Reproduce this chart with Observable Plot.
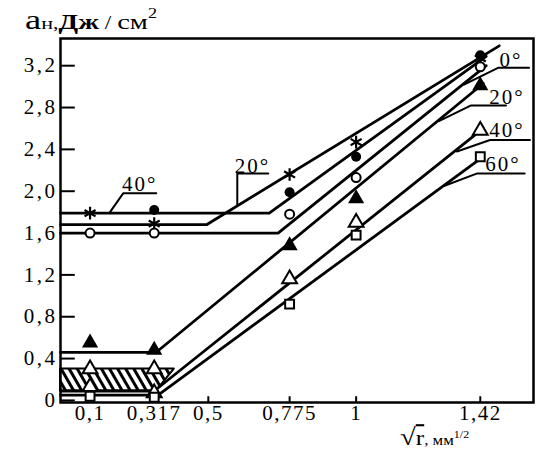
<!DOCTYPE html>
<html><head><meta charset="utf-8">
<script src="https://cdn.jsdelivr.net/npm/d3@7"></script>
<script src="https://cdn.jsdelivr.net/npm/@observablehq/plot@0.6"></script>
<style>
body{margin:0;background:#fff}
svg g[aria-label="x-axis tick label"] text{letter-spacing:1.5px}
svg g[aria-label="y-axis tick label"] text{letter-spacing:2.5px}
svg g[aria-label="text"] text{letter-spacing:2px}
</style>
</head><body><div id="chart"></div>
<script>
// tick values and labels
const xTicks = [0.1, 0.317, 0.5, 0.775, 1, 1.42];
const xTickLabels = ["0,1", "0,317", "0,5", "0,775", "1", "1,42"];
const xTickMarks = [0.5, 0.775, 1, 1.42];
const yTicks = [0, 0.4, 0.8, 1.2, 1.6, 2.0, 2.4, 2.8, 3.2];
const yTickLabels = ["0", "0,4", "0,8", "1,2", "1,6", "2,0", "2,4", "2,8", "3,2"];

// measured points by marker type [sqrt(r), a_n]
const ptsAsterisk = [[0.1, 1.79], [0.317, 1.69], [0.775, 2.16], [1.0, 2.47], [1.42, 3.27]];
const ptsFilledCircle = [[0.317, 1.82], [0.775, 1.99], [1.0, 2.33], [1.42, 3.30]];
const ptsOpenCircle = [[0.1, 1.6], [0.317, 1.6], [0.775, 1.78], [1.0, 2.13], [1.42, 3.19]];
const ptsFilledTriangle = [[0.1, 0.55], [0.317, 0.48], [0.775, 1.48], [1.0, 1.93], [1.42, 3.01]];
const ptsOpenTriangle = [[0.1, 0.30], [0.317, 0.30], [0.1, 0.13], [0.317, 0.07], [0.775, 1.16], [1.0, 1.70], [1.42, 2.58]];
const ptsSquare = [[0.1, 0.04], [0.317, 0.03], [0.775, 0.92], [1.0, 1.58], [1.42, 2.33]];

// fitted lines (plateau + linear rise)
const lineAsterisk = [[0, 1.68], [0.494, 1.68], [1.484, 3.39]];
const lineFilledCircle = [[0, 1.79], [0.706, 1.79], [1.44, 3.29]];
const lineOpenCircle = [[0, 1.6], [0.736, 1.6], [1.44, 3.2]];
const lineFilledTriangle = [[0, 0.46], [0.324, 0.46], [1.43, 3.03]];
const lineOpenTriangle = [[0, 0.09], [0.317, 0.09], [1.43, 2.6]];
const lineSquare = [[0, 0.05], [0.33, 0.05], [1.43, 2.33]];

// hatched scatter band
const bandX = [0, 0.325, 0.385];
const bandLow = [0.09, 0.09, 0.3];
const bandHigh = [0.3, 0.3, 0.3];

// curve labels (angle) and their leaders
const curveLabels = ["40°", "20°", "0°", "20°", "40°", "60°"];
const curveLabelX = [0.268, 0.649, 1.524, 1.51, 1.51, 1.497];
const curveLabelY = [2.07, 2.24, 3.25, 2.90, 2.58, 2.26];
const leaders = [
  [[0.324, 1.98], [0.212, 1.98], [0.165, 1.79]],
  [[0.703, 2.17], [0.598, 2.17], [0.598, 1.87]],
  [[1.585, 3.18], [1.48, 3.18], [1.365, 3.02]],
  [[1.507, 2.82], [1.389, 2.82], [1.28, 2.67]],
  [[1.588, 2.49], [1.453, 2.49], [1.341, 2.38]],
  [[1.57, 2.17], [1.41, 2.17], [1.297, 2.05]]
];

const band = bandX.map((x, i) => ({x, y1: bandLow[i], y2: bandHigh[i]}));
const labels = curveLabels.map((t, i) => ({t, x: curveLabelX[i], y: curveLabelY[i]}));
const fitLines = [lineAsterisk, lineFilledCircle, lineOpenCircle, lineFilledTriangle, lineOpenTriangle, lineSquare];
const px = d => d[0], py = d => d[1];

const plot = Plot.plot({
  width: 552, height: 451,
  marginLeft: 60, marginRight: 19, marginTop: 38, marginBottom: 49,
  style: {fontFamily: "'Liberation Serif', 'Times New Roman', serif", fontSize: "21px", color: "#000", background: "#fff", overflow: "visible"},
  x: {domain: [0, 1.6]},
  y: {domain: [-0.02, 3.46]},
  marks: [
    Plot.areaY(band, {x: "x", y1: "y1", y2: "y2", fill: "url(#hatch)", stroke: "#000", strokeWidth: 2}),
    Plot.axisX({ticks: xTicks, tickFormat: d => xTickLabels[xTicks.indexOf(d)], tickSize: 0, tickPadding: 3, fontSize: 21, label: null}),
    Plot.axisY({ticks: yTicks, tickFormat: d => yTickLabels[yTicks.indexOf(d)], tickSize: 0, tickPadding: 3, fontSize: 21, label: null}),
    Plot.ruleY(yTicks, {y: d => d, x1: 0, x2: 0.05, stroke: "#000", strokeWidth: 2}),
    Plot.ruleX(xTickMarks, {x: d => d, y1: -0.02, y2: 0.035, stroke: "#000", strokeWidth: 2}),
    ...fitLines.map(l => Plot.line(l, {x: px, y: py, stroke: "#000", strokeWidth: 2.8})),
    ...leaders.map(l => Plot.line(l, {x: px, y: py, stroke: "#000", strokeWidth: 2})),
    Plot.dot(ptsAsterisk, {x: px, y: py, symbol: "asterisk", r: 6, stroke: "#000", strokeWidth: 2.2}),
    Plot.dot(ptsFilledCircle, {x: px, y: py, symbol: "circle", r: 5, fill: "#000"}),
    Plot.dot(ptsOpenCircle, {x: px, y: py, symbol: "circle", r: 4.5, fill: "#fff", stroke: "#000", strokeWidth: 2}),
    Plot.dot(ptsFilledTriangle, {x: px, y: py, symbol: "triangle", r: 6, fill: "#000"}),
    Plot.dot(ptsOpenTriangle, {x: px, y: py, symbol: "triangle", r: 5.5, fill: "#fff", stroke: "#000", strokeWidth: 2}),
    Plot.dot(ptsSquare, {x: px, y: py, symbol: "square", r: 5, fill: "#fff", stroke: "#000", strokeWidth: 2}),
    Plot.text(labels, {x: "x", y: "y", text: "t", fontSize: 21, fill: "#000"}),
    Plot.frame({stroke: "#000", strokeWidth: 2.5})
  ]
});

const svg = d3.select(plot);
const defs = svg.insert("defs", ":first-child");
const pat = defs.append("pattern").attr("id", "hatch").attr("patternUnits", "userSpaceOnUse")
  .attr("width", 7).attr("height", 10).attr("patternTransform", "rotate(-30)");
pat.append("rect").attr("width", 7).attr("height", 10).attr("fill", "#fff");
pat.append("line").attr("x1", 1.5).attr("y1", -1).attr("x2", 1.5).attr("y2", 11).attr("stroke", "#000").attr("stroke-width", 3);

// y title
const yt = svg.append("text").attr("transform", "translate(25,29) scale(1.3,1)")
  .attr("text-anchor", "start")
  .attr("font-family", "'Liberation Serif', serif").attr("fill", "#000");
yt.append("tspan").attr("font-size", 28).text("a");
yt.append("tspan").attr("font-size", 17).text("н,");
yt.append("tspan").attr("font-size", 22).attr("font-weight", "bold").text("Дж");
yt.append("tspan").attr("font-size", 18).text(" / ");
yt.append("tspan").attr("font-size", 22).text("см");
yt.append("tspan").attr("font-size", 14).attr("dy", -11).text("2");

// x title
const xt = svg.append("text").attr("transform", "translate(400,445) scale(1.2,1)")
  .attr("text-anchor", "start")
  .attr("font-family", "'Liberation Serif', serif").attr("fill", "#000");
xt.append("tspan").attr("font-size", 24).attr("font-weight", "bold").text("√");
xt.append("tspan").attr("font-size", 21).attr("text-decoration", "overline").text("r");
xt.append("tspan").attr("font-size", 14).text(", мм");
xt.append("tspan").attr("font-size", 10).attr("dy", -7).text("1/2");

document.getElementById("chart").appendChild(plot);
</script>
</body></html>
